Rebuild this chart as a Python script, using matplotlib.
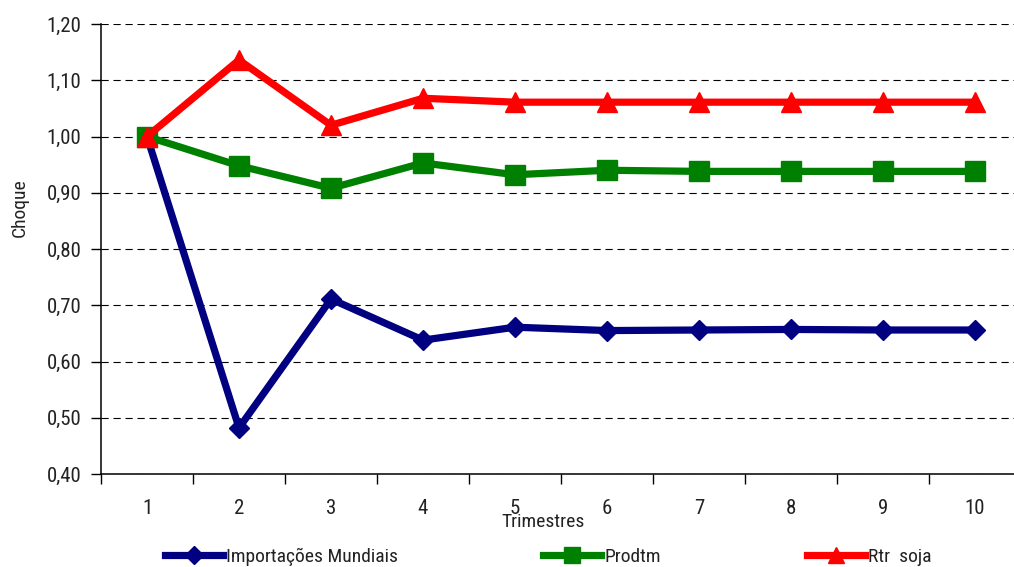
import matplotlib
matplotlib.use("Agg")
import matplotlib.pyplot as plt
from matplotlib import font_manager
from matplotlib.lines import Line2D

# Dados das respostas ao choque (trimestres 1 a 10)
trimestres = [1, 2, 3, 4, 5, 6, 7, 8, 9, 10]
importacoes = [1.000, 0.482, 0.711, 0.638, 0.661, 0.655, 0.656, 0.657, 0.656, 0.656]
prodtm = [1.000, 0.948, 0.908, 0.953, 0.932, 0.940, 0.938, 0.938, 0.938, 0.938]
rtr_soja = [1.000, 1.136, 1.020, 1.068, 1.061, 1.061, 1.061, 1.061, 1.061, 1.061]
y_ticks = [0.40, 0.50, 0.60, 0.70, 0.80, 0.90, 1.00, 1.10, 1.20]
nomes = ["Importações Mundiais", "Prodtm", "Rtr  soja"]

# Fonte estreita, se houver
disponiveis = {f.name for f in font_manager.fontManager.ttflist}
fonte = "DejaVu Sans"
for nome in ["Liberation Sans Narrow", "DejaVu Sans Condensed", "Roboto Condensed", "Liberation Sans"]:
    if nome in disponiveis:
        fonte = nome
        break
plt.rcParams["font.family"] = [fonte, "DejaVu Sans"]
plt.rcParams["font.size"] = 14
cor_texto = "#222222"

W, H = 1014, 567
fig = plt.figure(figsize=(W / 100, H / 100), dpi=100)
ax = fig.add_axes([101 / W, 1 - 474 / H, 920 / W, 450 / H])

estilo = dict(linewidth=5.2, solid_joinstyle="miter", clip_on=False)
l1, = ax.plot(trimestres, importacoes, color="#000080", marker="D", markersize=10.5, **estilo)
l2, = ax.plot(trimestres, prodtm, color="#008000", marker="s", markersize=14, **estilo)
l3, = ax.plot(trimestres, rtr_soja, color="#ff0000", marker="^", markersize=14, **estilo)

ax.set_xlim(0.5, 10.5)
ax.set_ylim(0.40, 1.20)

# Eixo Y com vírgula decimal
ax.set_yticks(y_ticks)
ax.set_yticklabels([f"{v:.2f}".replace(".", ",") for v in y_ticks])
ax.yaxis.grid(True, color="black", linestyle=(0, (6.5, 4.3)), linewidth=0.8)
ax.set_axisbelow(True)

# Eixo X: marcas entre categorias, rótulos no centro
ax.set_xticks([x + 0.5 for x in trimestres[:-1]] + [0.5])
ax.set_xticklabels([])
ax.set_xticks(trimestres, minor=True)
ax.set_xticklabels([str(t) for t in trimestres], minor=True)
ax.tick_params(axis="x", which="major", length=7, width=1, direction="out")
ax.tick_params(axis="x", which="minor", length=0, pad=18, labelcolor=cor_texto,
               labelsize=15)
ax.tick_params(axis="y", length=7, width=1, pad=7, labelcolor=cor_texto, labelsize=15)

for lado in ["top", "right"]:
    ax.spines[lado].set_visible(False)
for lado in ["left", "bottom"]:
    ax.spines[lado].set_linewidth(1.1)
    ax.spines[lado].set_color("black")

fig.text(543 / W, 1 - 522 / H, "Trimestres", ha="center", va="center", color=cor_texto)
fig.text(20 / W, 1 - 208 / H, "Choque", ha="center", va="center", rotation=90,
         color=cor_texto)

# Legenda em três blocos na base
for linha, nome, x0 in zip([l1, l2, l3], nomes, [165, 543, 807]):
    h = Line2D([], [], color=linha.get_color(), marker=linha.get_marker(),
               markersize=linha.get_markersize() * 0.85, linewidth=5.2)
    fig.legend([h], [nome], loc="center left", bbox_to_anchor=(x0 / W, 1 - 557 / H),
               frameon=False, borderpad=0, borderaxespad=0, handlelength=3.0,
               handletextpad=0.15, labelcolor=cor_texto)

fig.savefig("out.png", dpi=100)
